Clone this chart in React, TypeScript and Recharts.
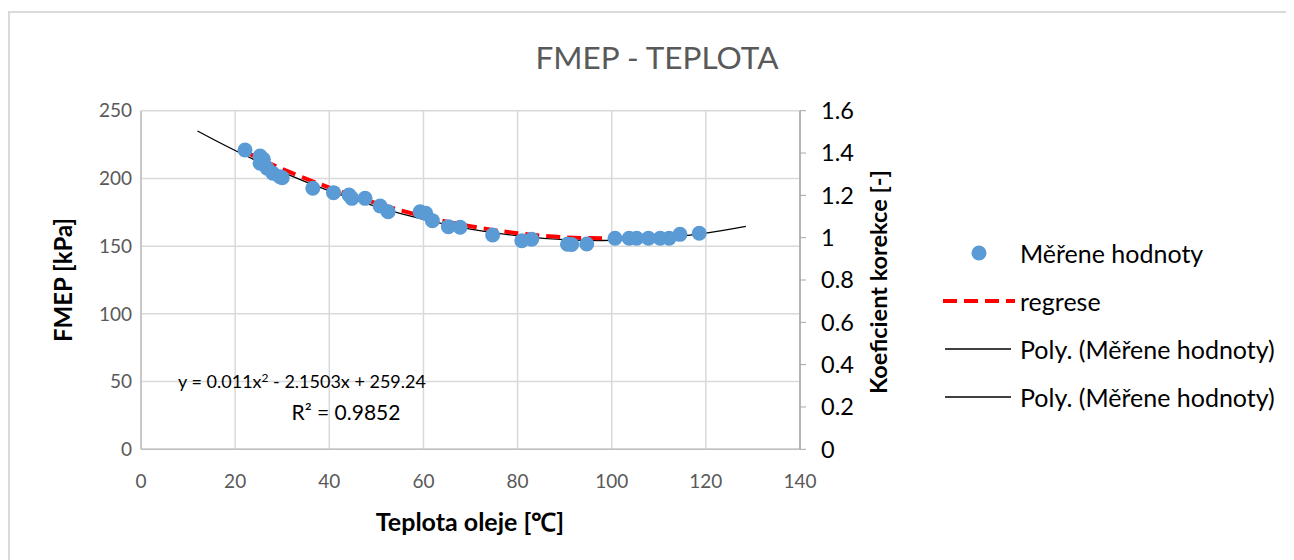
import React from 'react';
import {
  ComposedChart,
  Scatter,
  Line,
  XAxis,
  YAxis,
  CartesianGrid,
  Legend,
} from 'recharts';

// Measured oil temperature [°C] and FMEP [kPa]
const tempMeasured = [
  22.1, 25.3, 26.0, 25.3, 26.8, 28.0, 29.5, 30.0, 36.5, 40.9, 44.2, 44.8, 47.6, 50.8, 52.5,
  59.3, 60.5, 61.9, 65.3, 67.8, 74.7, 80.9, 83.0, 90.6, 91.5, 94.7, 100.7, 103.7, 105.3,
  107.8, 110.3, 112.2, 114.5, 118.6,
];
const fmepMeasured = [
  221.0, 216.6, 214.1, 211.2, 207.5, 203.8, 201.3, 200.5, 192.7, 189.5, 187.8, 185.3, 185.3,
  179.6, 175.4, 175.4, 174.2, 168.8, 164.4, 163.9, 158.2, 154.0, 155.1, 151.4, 151.2, 151.6,
  155.8, 155.8, 155.8, 155.8, 155.8, 155.8, 158.7, 159.5,
];

// Polynomial trendline y = 0.011x^2 - 2.1503x + 259.24, sampled
const trendTemp = [12, 20, 30, 40, 50, 60, 70, 80, 90, 100, 110, 120, 128.5];
const trendFmep = [235.0, 220.6, 204.6, 190.8, 179.2, 169.8, 162.6, 157.6, 154.8, 154.2, 155.8, 159.6, 164.6];

// Correction coefficient regression (right axis)
const regTemp = [22, 30, 40, 50, 60, 70, 80, 90, 100, 110, 118];
const regCoef = [1.407, 1.325, 1.237, 1.163, 1.101, 1.054, 1.021, 1.002, 0.998, 1.007, 1.026];

const xTicks = [0, 20, 40, 60, 80, 100, 120, 140];
const leftTicks = [0, 50, 100, 150, 200, 250];
const rightTicks = [0, 0.2, 0.4, 0.6, 0.8, 1, 1.2, 1.4, 1.6];

const FONT = "Lato, 'Open Sans', sans-serif";

const measured = tempMeasured.map((x, i) => ({ x, y: fmepMeasured[i] }));
const trend = trendTemp.map((x, i) => ({ x, y: trendFmep[i] }));
const regression = regTemp.map((x, i) => ({ x, k: regCoef[i] }));

const Dot = (props: any) => <circle cx={props.cx} cy={props.cy} r={7.5} fill="#5B9BD5" />;

const LegendBox = () => {
  const row: React.CSSProperties = { display: 'flex', alignItems: 'center', height: 48 };
  const text: React.CSSProperties = { marginLeft: 4, fontSize: 25, color: '#000', whiteSpace: 'nowrap' };
  return (
    <div style={{ fontFamily: FONT }}>
      <div style={row}>
        <svg width={76} height={20}><circle cx={39} cy={10} r={7.5} fill="#5B9BD5" /></svg>
        <span style={text}>Měřene hodnoty</span>
      </div>
      <div style={row}>
        <svg width={76} height={20}><line x1={3} x2={75} y1={10} y2={10} stroke="#FF0000" strokeWidth={4} strokeDasharray="14 7" /></svg>
        <span style={text}>regrese</span>
      </div>
      <div style={row}>
        <svg width={76} height={20}><line x1={5} x2={71} y1={10} y2={10} stroke="#000" strokeWidth={1.3} /></svg>
        <span style={text}>Poly. (Měřene hodnoty)</span>
      </div>
      <div style={row}>
        <svg width={76} height={20}><line x1={5} x2={71} y1={10} y2={10} stroke="#000" strokeWidth={1.3} /></svg>
        <span style={text}>Poly. (Měřene hodnoty)</span>
      </div>
    </div>
  );
};

const centered = (left: number, top: number, style: React.CSSProperties, rotate = false) => ({
  outer: { position: 'absolute', left, top, width: 0, height: 0 } as React.CSSProperties,
  inner: {
    position: 'absolute',
    transform: rotate ? 'translate(-50%, -50%) rotate(-90deg)' : 'translate(-50%, -50%)',
    whiteSpace: 'nowrap',
    color: '#000',
    ...style,
  } as React.CSSProperties,
});

export default function App() {
  const yTitle = centered(54, 272, { fontWeight: 700, fontSize: 24 }, true);
  const y2Title = centered(870, 274, { fontWeight: 700, fontSize: 23.5 }, true);
  const xTitle = centered(462, 513, { fontWeight: 700, fontSize: 25 });
  const eq = centered(294, 373, { fontSize: 18 });
  const r2 = centered(338, 403, { fontSize: 21 });

  return (
    <div style={{ position: 'relative', width: 1286, height: 552, overflow: 'hidden', fontFamily: FONT }}>
      <div
        style={{
          position: 'absolute', left: 0, top: 3, width: 1286, height: 549,
          borderTop: '2px solid #d9d9d9', borderLeft: '2px solid #d9d9d9', boxSizing: 'border-box',
        }}
      />
      <ComposedChart
        width={1286}
        height={552}
        margin={{ top: 102.7, right: 414, bottom: 70.7, left: 73 }}
      >
        <CartesianGrid yAxisId="left" stroke="#d9d9d9" strokeWidth={1.5} />
        <XAxis
          type="number"
          dataKey="x"
          domain={[0, 140]}
          ticks={xTicks}
          height={40}
          tickLine={false}
          tickSize={0}
          tickMargin={25}
          axisLine={{ stroke: '#bfbfbf', strokeWidth: 1.5 }}
          tick={{ fill: '#595959', fontSize: 19, fontFamily: FONT }}
          allowDataOverflow
        />
        <YAxis
          yAxisId="left"
          type="number"
          domain={[0, 250]}
          ticks={leftTicks}
          width={60}
          tickLine={false}
          tickSize={0}
          tickMargin={9}
          axisLine={{ stroke: '#bfbfbf', strokeWidth: 1.5 }}
          tick={{ fill: '#595959', fontSize: 19, fontFamily: FONT }}
        />
        <YAxis
          yAxisId="right"
          orientation="right"
          type="number"
          domain={[0, 1.6]}
          ticks={rightTicks}
          width={80}
          tickSize={6}
          tickMargin={15}
          tickLine={{ stroke: '#a6a6a6' }}
          axisLine={{ stroke: '#a6a6a6', strokeWidth: 1.5 }}
          tickFormatter={(v: number) => String(v)}
          tick={{ fill: '#000', fontSize: 23.5, fontFamily: FONT }}
        />
        <Scatter
          yAxisId="left"
          data={measured}
          dataKey="y"
          shape={Dot}
          isAnimationActive={false}
        />
        <Line
          yAxisId="left"
          data={trend}
          dataKey="y"
          type="natural"
          stroke="#000"
          strokeWidth={1.3}
          dot={false}
          isAnimationActive={false}
        />
        <Line
          yAxisId="right"
          data={regression}
          dataKey="k"
          type="natural"
          stroke="#FF0000"
          strokeWidth={4}
          strokeDasharray="14 7"
          dot={false}
          isAnimationActive={false}
        />
        <Legend
          layout="vertical"
          align="center"
          verticalAlign="middle"
          content={<LegendBox />}
          wrapperStyle={{ left: 932, top: 220.7, width: 354 }}
        />
      </ComposedChart>

      <div style={{ position: 'absolute', left: 0, width: 1298, top: 30, textAlign: 'center', fontSize: 31.5, color: '#595959' }}>
        FMEP - TEPLOTA
      </div>
      <div style={yTitle.outer}><div style={yTitle.inner}>FMEP [kPa]</div></div>
      <div style={y2Title.outer}><div style={y2Title.inner}>Koeficient korekce [-]</div></div>
      <div style={xTitle.outer}><div style={xTitle.inner}>Teplota oleje [℃]</div></div>
      <div style={eq.outer}>
        <div style={eq.inner}>
          y = 0.011x<sup style={{ fontSize: 12, verticalAlign: 6 }}>2</sup> - 2.1503x + 259.24
        </div>
      </div>
      <div style={r2.outer}><div style={r2.inner}>R² = 0.9852</div></div>
    </div>
  );
}
